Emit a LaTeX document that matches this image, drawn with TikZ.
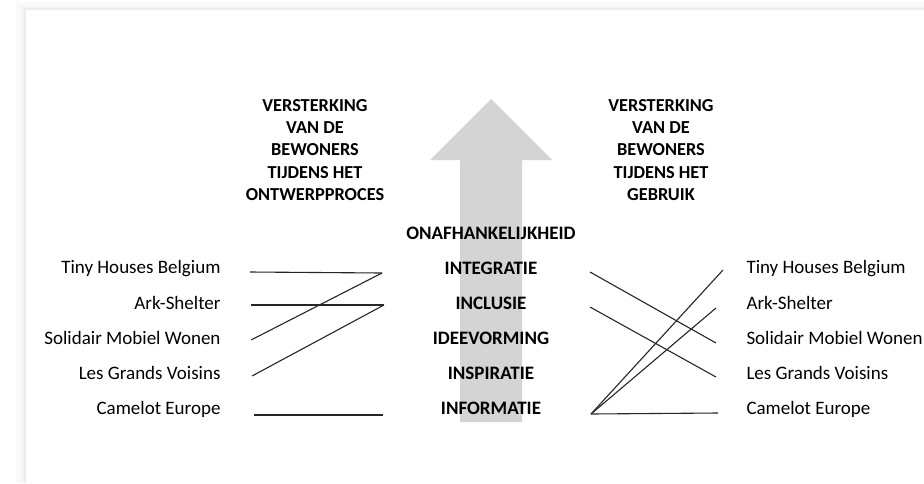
\documentclass[tikz,border=0pt]{standalone}
\usepackage{fontspec}
\setmainfont{Carlito}
\tikzset{
    project/.style={font=\fontsize{19}{22}\selectfont, inner sep=0},
    level/.style={font=\bfseries\fontsize{19}{22}\selectfont, inner sep=0, anchor=base},
    header/.style={font=\bfseries\fontsize{18.3}{22.3}\selectfont, align=center, inner sep=0},
    link/.style={draw=black!85, line width=1.1}
}
\begin{document}
\begin{tikzpicture}[
        x=1pt, y=-1pt, line width=1
    ]
        \useasboundingbox (0,0) rectangle (924,483);

        % page with soft shadow
        \fill[black!2] (16,2) rectangle (924,483);
        \fill[black!4] (21,6) rectangle (924,483);
        \fill[black!7] (24,8) rectangle (924,483);
        \fill[white] (26,10) rectangle (924,483);

        % big arrow
        \fill[black!17] (460,422) -- (460,160) -- (430,160) -- (491,99)
            -- (552,160) -- (522,160) -- (522,422) -- cycle;

        % headers
        \node[header] (hdesign) at (315,150)
            {VERSTERKING\\VAN DE\\BEWONERS\\TIJDENS HET\\ONTWERPPROCES};
        \node[header] (huse) at (661,150)
            {VERSTERKING\\VAN DE\\BEWONERS\\TIJDENS HET\\GEBRUIK};

        % levels
        \node[level] (onaf) at (491,239) {ONAFHANKELIJKHEID};
        \node[level] (integ) at (491,274) {INTEGRATIE};
        \node[level] (inclu) at (491,309) {INCLUSIE};
        \node[level] (ideev) at (491,344) {IDEEVORMING};
        \node[level] (inspi) at (491,379) {INSPIRATIE};
        \node[level] (infor) at (491,414) {INFORMATIE};

        % projects, left
        \node[project, anchor=base east] (tinyL) at (221,273) {Tiny Houses Belgium};
        \node[project, anchor=base east] (arkL) at (221,309) {Ark-Shelter};
        \node[project, anchor=base east] (smwL) at (221,344) {Solidair Mobiel Wonen};
        \node[project, anchor=base east] (lgvL) at (221,379) {Les Grands Voisins};
        \node[project, anchor=base east] (camL) at (221,414) {Camelot Europe};

        % projects, right
        \node[project, anchor=base west] (tinyR) at (746,273) {Tiny Houses Belgium};
        \node[project, anchor=base west] (arkR) at (746,309) {Ark-Shelter};
        \node[project, anchor=base west] (smwR) at (746,344) {Solidair Mobiel Wonen};
        \node[project, anchor=base west] (lgvR) at (746,379) {Les Grands Voisins};
        \node[project, anchor=base west] (camR) at (746,414) {Camelot Europe};

        % line ends
        \coordinate (tinyLo) at (250,272);
        \coordinate (arkLo) at (251,305);
        \coordinate (smwLo) at (251,340);
        \coordinate (lgvLo) at (252,376);
        \coordinate (camLo) at (254,415);
        \coordinate (integL) at (382,273);
        \coordinate (incluL) at (384,305);
        \coordinate (inforL) at (383,415);

        \coordinate (integR) at (590,272);
        \coordinate (incluR) at (590,307);
        \coordinate (inforR) at (591,414);
        \coordinate (tinyRo) at (723,270);
        \coordinate (arkRo) at (716,308);
        \coordinate (smwRo) at (716,343);
        \coordinate (lgvRo) at (716,377);
        \coordinate (camRo) at (718,413);

        % design process
        \draw[link] (tinyLo) -- (integL);
        \draw[link] (arkLo) -- (incluL);
        \draw[link] (smwLo) -- (integL);
        \draw[link] (lgvLo) -- (incluL);
        \draw[link] (camLo) -- (inforL);

        % use
        \draw[link] (integR) -- (smwRo);
        \draw[link] (incluR) -- (lgvRo);
        \draw[link] (inforR) -- (tinyRo);
        \draw[link] (inforR) -- (arkRo);
        \draw[link] (inforR) -- (camRo);

\end{tikzpicture}
\end{document}
